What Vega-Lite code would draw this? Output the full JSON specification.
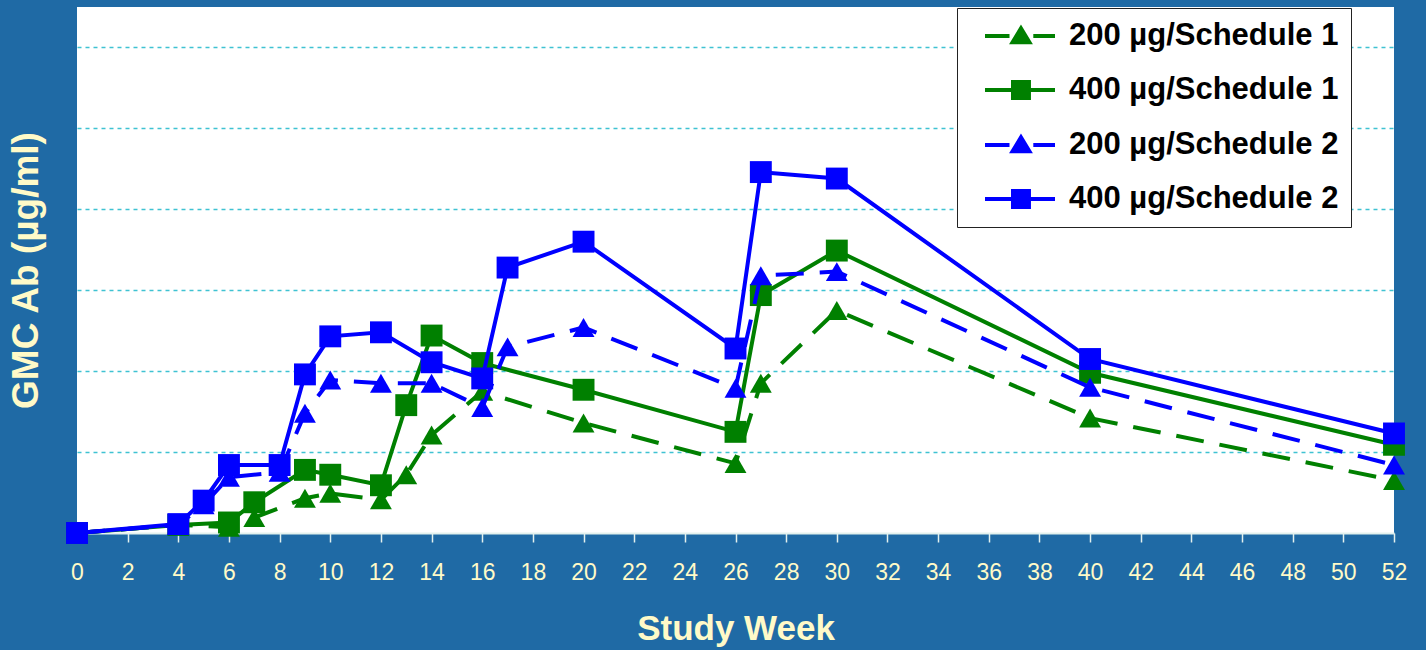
{
  "$schema": "https://vega.github.io/schema/vega-lite/v6.json",
  "autosize": {"type": "none"},
  "width": 1317,
  "height": 526,
  "padding": {"left": 77, "top": 7, "right": 32, "bottom": 117},
  "background": "#1f6aa5",
  "config": {
    "view": {"fill": "white", "stroke": null},
    "font": "Liberation Sans",
    "legend": {
      "title": null,
      "orient": "none",
      "legendX": 880,
      "legendY": 1,
      "fillColor": "white",
      "strokeColor": "#222222",
      "padding": 12,
      "rowPadding": 23,
      "labelFont": "Liberation Sans",
      "labelFontSize": 31,
      "labelFontWeight": "bold",
      "labelColor": "black",
      "labelOffset": 68,
      "labelLimit": 500,
      "symbolSize": 784,
      "symbolStrokeWidth": 4,
      "symbolOpacity": 1
    }
  },
  "data": {
    "values": [
      {"week": 0, "series": "200 µg/Schedule 1", "gmc": 0.0},
      {"week": 4, "series": "200 µg/Schedule 1", "gmc": 0.1},
      {"week": 6, "series": "200 µg/Schedule 1", "gmc": 0.07},
      {"week": 7, "series": "200 µg/Schedule 1", "gmc": 0.19},
      {"week": 9, "series": "200 µg/Schedule 1", "gmc": 0.43},
      {"week": 10, "series": "200 µg/Schedule 1", "gmc": 0.49},
      {"week": 12, "series": "200 µg/Schedule 1", "gmc": 0.41},
      {"week": 13, "series": "200 µg/Schedule 1", "gmc": 0.72},
      {"week": 14, "series": "200 µg/Schedule 1", "gmc": 1.21},
      {"week": 16, "series": "200 µg/Schedule 1", "gmc": 1.75},
      {"week": 20, "series": "200 µg/Schedule 1", "gmc": 1.36},
      {"week": 26, "series": "200 µg/Schedule 1", "gmc": 0.86},
      {"week": 27, "series": "200 µg/Schedule 1", "gmc": 1.85},
      {"week": 30, "series": "200 µg/Schedule 1", "gmc": 2.75},
      {"week": 40, "series": "200 µg/Schedule 1", "gmc": 1.42},
      {"week": 52, "series": "200 µg/Schedule 1", "gmc": 0.65},

      {"week": 0, "series": "400 µg/Schedule 1", "gmc": 0.0},
      {"week": 4, "series": "400 µg/Schedule 1", "gmc": 0.1},
      {"week": 6, "series": "400 µg/Schedule 1", "gmc": 0.13},
      {"week": 7, "series": "400 µg/Schedule 1", "gmc": 0.38},
      {"week": 9, "series": "400 µg/Schedule 1", "gmc": 0.78},
      {"week": 10, "series": "400 µg/Schedule 1", "gmc": 0.72},
      {"week": 12, "series": "400 µg/Schedule 1", "gmc": 0.59},
      {"week": 13, "series": "400 µg/Schedule 1", "gmc": 1.58},
      {"week": 14, "series": "400 µg/Schedule 1", "gmc": 2.44},
      {"week": 16, "series": "400 µg/Schedule 1", "gmc": 2.10},
      {"week": 20, "series": "400 µg/Schedule 1", "gmc": 1.77},
      {"week": 26, "series": "400 µg/Schedule 1", "gmc": 1.25},
      {"week": 27, "series": "400 µg/Schedule 1", "gmc": 2.94},
      {"week": 30, "series": "400 µg/Schedule 1", "gmc": 3.49},
      {"week": 40, "series": "400 µg/Schedule 1", "gmc": 1.98},
      {"week": 52, "series": "400 µg/Schedule 1", "gmc": 1.09},

      {"week": 0, "series": "200 µg/Schedule 2", "gmc": 0.0},
      {"week": 4, "series": "200 µg/Schedule 2", "gmc": 0.1},
      {"week": 5, "series": "200 µg/Schedule 2", "gmc": 0.35},
      {"week": 6, "series": "200 µg/Schedule 2", "gmc": 0.69},
      {"week": 8, "series": "200 µg/Schedule 2", "gmc": 0.75},
      {"week": 9, "series": "200 µg/Schedule 2", "gmc": 1.48},
      {"week": 10, "series": "200 µg/Schedule 2", "gmc": 1.89},
      {"week": 12, "series": "200 µg/Schedule 2", "gmc": 1.85},
      {"week": 14, "series": "200 µg/Schedule 2", "gmc": 1.85},
      {"week": 16, "series": "200 µg/Schedule 2", "gmc": 1.55},
      {"week": 17, "series": "200 µg/Schedule 2", "gmc": 2.30},
      {"week": 20, "series": "200 µg/Schedule 2", "gmc": 2.54},
      {"week": 26, "series": "200 µg/Schedule 2", "gmc": 1.79},
      {"week": 27, "series": "200 µg/Schedule 2", "gmc": 3.18},
      {"week": 30, "series": "200 µg/Schedule 2", "gmc": 3.23},
      {"week": 40, "series": "200 µg/Schedule 2", "gmc": 1.80},
      {"week": 52, "series": "200 µg/Schedule 2", "gmc": 0.84},

      {"week": 0, "series": "400 µg/Schedule 2", "gmc": 0.0},
      {"week": 4, "series": "400 µg/Schedule 2", "gmc": 0.11},
      {"week": 5, "series": "400 µg/Schedule 2", "gmc": 0.40},
      {"week": 6, "series": "400 µg/Schedule 2", "gmc": 0.84},
      {"week": 8, "series": "400 µg/Schedule 2", "gmc": 0.84},
      {"week": 9, "series": "400 µg/Schedule 2", "gmc": 1.96},
      {"week": 10, "series": "400 µg/Schedule 2", "gmc": 2.43},
      {"week": 12, "series": "400 µg/Schedule 2", "gmc": 2.48},
      {"week": 14, "series": "400 µg/Schedule 2", "gmc": 2.11},
      {"week": 16, "series": "400 µg/Schedule 2", "gmc": 1.91},
      {"week": 17, "series": "400 µg/Schedule 2", "gmc": 3.28},
      {"week": 20, "series": "400 µg/Schedule 2", "gmc": 3.60},
      {"week": 26, "series": "400 µg/Schedule 2", "gmc": 2.28},
      {"week": 27, "series": "400 µg/Schedule 2", "gmc": 4.46},
      {"week": 30, "series": "400 µg/Schedule 2", "gmc": 4.38},
      {"week": 40, "series": "400 µg/Schedule 2", "gmc": 2.15},
      {"week": 52, "series": "400 µg/Schedule 2", "gmc": 1.23}
    ]
  },
  "encoding": {
    "x": {
      "field": "week",
      "type": "quantitative",
      "scale": {"domain": [0, 52], "nice": false, "zero": false},
      "axis": {
        "title": "Study Week",
        "values": [0,2,4,6,8,10,12,14,16,18,20,22,24,26,28,30,32,34,36,38,40,42,44,46,48,50,52],
        "grid": false,
        "domainColor": "#e3f1ee",
        "domainWidth": 2,
        "tickColor": "#e3f1ee",
        "tickSize": 9,
        "tickWidth": 1.5,
        "labelColor": "#fffac8",
        "labelFont": "Liberation Sans",
        "labelFontSize": 23,
        "labelPadding": 19,
        "labelFlush": false,
        "labelOverlap": false,
        "titleColor": "#fffac8",
        "titleFont": "Liberation Sans",
        "titleFontSize": 35,
        "titleFontWeight": "bold",
        "titlePadding": 27
      }
    },
    "y": {
      "field": "gmc",
      "type": "quantitative",
      "scale": {"domain": [0, 6.5], "nice": false},
      "axis": {
        "title": "GMC Ab (µg/ml)",
        "values": [1, 2, 3, 4, 5, 6],
        "labels": false,
        "ticks": false,
        "domain": false,
        "grid": true,
        "gridColor": "#3fc2d2",
        "gridDash": [4, 4],
        "gridWidth": 1.3,
        "titleColor": "#fffac8",
        "titleFont": "Liberation Sans",
        "titleFontSize": 37,
        "titleFontWeight": "bold",
        "titlePadding": 32
      }
    },
    "color": {
      "field": "series",
      "type": "nominal",
      "scale": {
        "domain": ["200 µg/Schedule 1", "400 µg/Schedule 1", "200 µg/Schedule 2", "400 µg/Schedule 2"],
        "range": ["#008000", "#008000", "#0000ff", "#0000ff"]
      },
      "legend": {"labelExpr": "datum.label + '\u00a0\u00a0\u00a0\u00a0'"}
    }
  },
  "layer": [
    {
      "transform": [{"filter": "datum.series === '200 µg/Schedule 1'"}],
      "mark": {"type": "line", "strokeWidth": 4, "strokeDash": [28, 16], "clip": false}
    },
    {
      "transform": [{"filter": "datum.series === '200 µg/Schedule 1'"}],
      "mark": {"type": "point", "shape": "triangle-up", "filled": true, "opacity": 1, "size": 480, "clip": false}
    },
    {
      "transform": [{"filter": "datum.series === '400 µg/Schedule 1'"}],
      "mark": {"type": "line", "strokeWidth": 4, "clip": false}
    },
    {
      "transform": [{"filter": "datum.series === '400 µg/Schedule 1'"}],
      "mark": {"type": "point", "shape": "square", "filled": true, "opacity": 1, "size": 480, "clip": false}
    },
    {
      "transform": [{"filter": "datum.series === '200 µg/Schedule 2'"}],
      "mark": {"type": "line", "strokeWidth": 4, "strokeDash": [28, 16], "clip": false}
    },
    {
      "transform": [{"filter": "datum.series === '200 µg/Schedule 2'"}],
      "mark": {"type": "point", "shape": "triangle-up", "filled": true, "opacity": 1, "size": 480, "clip": false}
    },
    {
      "transform": [{"filter": "datum.series === '400 µg/Schedule 2'"}],
      "mark": {"type": "line", "strokeWidth": 4, "clip": false}
    },
    {
      "transform": [{"filter": "datum.series === '400 µg/Schedule 2'"}],
      "mark": {"type": "point", "shape": "square", "filled": true, "opacity": 1, "size": 480, "clip": false}
    },
    {
      "mark": {"type": "point", "filled": true, "opacity": 0, "size": 784, "clip": false},
      "encoding": {
        "shape": {
          "field": "series",
          "type": "nominal",
          "scale": {
            "domain": ["200 µg/Schedule 1", "400 µg/Schedule 1", "200 µg/Schedule 2", "400 µg/Schedule 2"],
            "range": [
              "M0,0H1.75M3.45,0H5M1.97,0.45L2.57,-0.55L3.17,0.45Z",
              "M0,0H5M2,-0.57H3.14V0.57H2Z",
              "M0,0H1.75M3.45,0H5M1.97,0.45L2.57,-0.55L3.17,0.45Z",
              "M0,0H5M2,-0.57H3.14V0.57H2Z"
            ]
          },
          "legend": {"labelExpr": "datum.label + '\u00a0\u00a0\u00a0\u00a0'"}
        },
        "stroke": {
          "field": "series",
          "type": "nominal",
          "scale": {
            "domain": ["200 µg/Schedule 1", "400 µg/Schedule 1", "200 µg/Schedule 2", "400 µg/Schedule 2"],
            "range": ["#008000", "#008000", "#0000ff", "#0000ff"]
          },
          "legend": {"labelExpr": "datum.label + '\u00a0\u00a0\u00a0\u00a0'"}
        }
      }
    }
  ]
}
